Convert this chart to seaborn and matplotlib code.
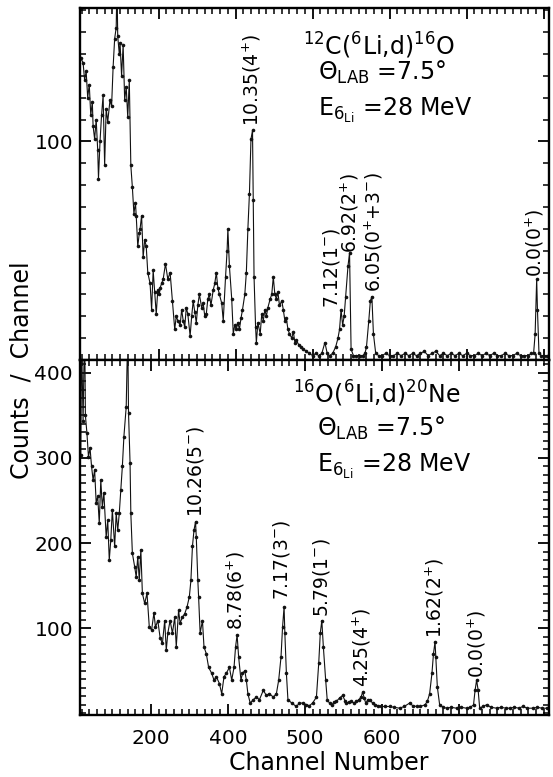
import matplotlib
matplotlib.use("Agg")
import matplotlib.pyplot as plt
import seaborn as sns
import pandas as pd
from matplotlib.ticker import MultipleLocator, FixedLocator

# ---------------- data ----------------
# Top spectrum: 12C(6Li,d)16O
top_channel = [209, 212, 214, 216, 218, 220, 222, 224, 225, 227, 229, 231, 232, 234, 236, 238, 240, 242, 244, 247,
               249, 251, 253, 255, 256, 257, 259, 260, 262, 264, 266, 268, 270, 272, 274, 276, 278, 280, 281, 283,
               285, 286, 288, 290, 292, 294, 296, 299, 301, 303, 305, 307, 309, 311, 312, 314, 316, 319, 322, 325,
               328, 331, 333, 335, 338, 340, 342, 344, 346, 348, 351, 353, 355, 357, 359, 361, 363, 366, 368, 370,
               372, 374, 376, 378, 381, 383, 385, 387, 389, 392, 394, 397, 399, 400, 402, 405, 407, 409, 411, 413,
               415, 417, 419, 422, 424, 426, 428, 430, 432, 433, 434, 436, 437, 439, 442, 444, 446, 448, 450, 452,
               455, 457, 459, 461, 463, 465, 467, 470, 472, 474, 476, 478, 480, 483, 485, 487, 489, 492, 495, 498,
               502, 506, 510, 514, 518, 522, 526, 529, 532, 536, 540, 543, 545, 547, 549, 551, 553, 556, 558, 560,
               563, 567, 571, 575, 578, 580, 583, 585, 587, 589, 592, 596, 600, 605, 610, 615, 620, 625, 630, 635,
               640, 645, 650, 655, 660, 665, 670, 675, 680, 685, 690, 695, 700, 705, 710, 715, 720, 725, 730, 735,
               740, 745, 750, 755, 760, 765, 770, 775, 780, 785, 790, 794, 797, 799, 801, 802, 804, 807, 810, 814,
               817]
top_counts = [138, 136, 128, 132, 120, 126, 112, 118, 107, 101, 110, 96, 83, 100, 112, 121, 89, 115, 109, 119,
              116, 134, 147, 152, 172, 148, 140, 145, 130, 144, 119, 125, 111, 128, 89, 79, 67, 72, 66, 52,
              58, 60, 66, 47, 55, 52, 40, 35, 23, 41, 31, 21, 32, 30, 33, 35, 37, 44, 37, 40,
              27, 14, 20, 18, 16, 23, 18, 15, 24, 21, 11, 20, 27, 22, 17, 25, 30, 24, 26, 20,
              21, 28, 30, 25, 32, 35, 40, 33, 30, 26, 18, 38, 50, 60, 43, 28, 12, 16, 14, 17,
              14, 19, 23, 30, 40, 60, 76, 101, 105, 73, 38, 15, 8, 17, 12, 21, 18, 23, 20, 24,
              28, 30, 38, 30, 28, 31, 25, 27, 23, 18, 19, 14, 12, 10, 13, 8, 9, 7, 6, 5,
              4, 3, 2, 3, 2, 3, 8, 3, 2, 3, 6, 10, 14, 23, 16, 20, 29, 43, 49, 5,
              2, 2, 2, 2, 3, 6, 18, 27, 29, 12, 3, 2, 2, 3, 2, 2, 3, 2, 3, 2,
              3, 2, 3, 4, 2, 3, 4, 2, 3, 2, 3, 2, 3, 2, 3, 2, 2, 3, 2, 3,
              2, 3, 2, 2, 3, 2, 2, 3, 2, 2, 2, 3, 3, 12, 37, 23, 3, 2, 2, 2,
              2]

# Bottom spectrum: 16O(6Li,d)20Ne
bot_channel = [209, 210, 212, 214, 215, 217, 219, 221, 223, 225, 227, 229, 231, 233, 235, 237, 239, 242, 244, 246,
               248, 250, 253, 255, 257, 259, 261, 263, 265, 268, 270, 271, 273, 274, 276, 279, 281, 283, 285, 287,
               289, 292, 295, 298, 301, 304, 306, 309, 312, 315, 318, 320, 322, 325, 328, 331, 333, 336, 338, 341,
               344, 347, 350, 352, 354, 356, 358, 359, 361, 362, 364, 367, 369, 372, 375, 379, 382, 385, 389, 392,
               395, 398, 402, 405, 408, 410, 412, 414, 417, 419, 422, 424, 426, 429, 433, 437, 441, 446, 450, 454,
               459, 463, 466, 469, 471, 473, 474, 476, 478, 483, 489, 493, 498, 502, 506, 510, 515, 518, 520, 522,
               524, 527, 529, 532, 535, 538, 541, 545, 549, 552, 554, 557, 560, 564, 567, 570, 573, 575, 577, 579,
               582, 584, 588, 591, 595, 599, 604, 610, 616, 623, 629, 636, 640, 645, 650, 656, 659, 662, 665, 667,
               669, 670, 672, 675, 680, 684, 690, 697, 703, 710, 715, 719, 721, 723, 725, 727, 731, 736, 742, 749,
               755, 761, 766, 772, 778, 783, 789, 796, 802, 808, 814, 817]
bot_counts = [303, 440, 343, 460, 350, 329, 301, 312, 290, 274, 286, 247, 255, 223, 274, 242, 259, 207, 227, 180,
              204, 239, 196, 235, 215, 235, 262, 290, 325, 360, 450, 353, 294, 235, 188, 172, 160, 184, 156, 192,
              141, 129, 141, 101, 98, 118, 101, 109, 89, 82, 109, 74, 94, 109, 94, 113, 78, 121, 106, 113,
              117, 125, 137, 156, 196, 215, 225, 207, 156, 137, 94, 109, 78, 70, 54, 47, 39, 43, 35, 23,
              43, 47, 54, 39, 54, 78, 92, 66, 39, 47, 50, 39, 23, 12, 16, 19, 16, 27, 21, 23,
              19, 23, 39, 66, 101, 125, 94, 47, 16, 12, 8, 12, 12, 10, 9, 12, 19, 59, 94, 109,
              78, 39, 16, 12, 10, 13, 14, 18, 21, 15, 12, 13, 14, 12, 14, 16, 19, 25, 18, 12,
              16, 16, 12, 10, 9, 8, 8, 8, 7, 6, 8, 12, 9, 8, 8, 10, 14, 23, 47, 70,
              84, 66, 31, 10, 7, 6, 7, 6, 7, 6, 7, 10, 27, 39, 27, 6, 8, 10, 7, 6,
              7, 6, 6, 7, 6, 8, 6, 6, 7, 6, 6, 6]

# Peak annotations (text, channel, count at label foot)
top_labels = ["10.35(4$^{+}$)", "7.12(1$^{-}$)", "6.92(2$^{+}$)", "6.05(0$^{+}$+3$^{-}$)", "0.0(0$^{+}$)"]
top_label_channel = [431, 535, 559, 590, 799]
top_label_count = [107, 24, 49, 31, 38]

bot_labels = ["10.26(5$^{-}$)", "8.78(6$^{+}$)", "7.17(3$^{-}$)", "5.79(1$^{-}$)",
              "4.25(4$^{+}$)", "1.62(2$^{+}$)", "0.0(0$^{+}$)"]
bot_label_channel = [358, 410, 470, 522, 574, 669, 723]
bot_label_count = [231, 98, 133, 113, 31, 89, 42]

x_tick_values = [300, 400, 500, 600, 700]
x_tick_labels = ["200", "400", "500", "600", "700"]
top_major_x = [310, 410, 510, 610, 710, 810]
top_y_ticks = [100]
bot_y_ticks = [100, 200, 300, 400]

top_text = ["$^{12}$C($^{6}$Li,d)$^{16}$O", "Θ$_{\\mathrm{LAB}}$ =7.5°", "E$_{6_{\\mathrm{Li}}}$ =28 MeV"]
bot_text = ["$^{16}$O($^{6}$Li,d)$^{20}$Ne", "Θ$_{\\mathrm{LAB}}$ =7.5°", "E$_{6_{\\mathrm{Li}}}$ =28 MeV"]

# ---------------- styling ----------------
sns.set_style("ticks")
plt.rcParams['font.family'] = ['DejaVu Sans']
plt.rcParams['mathtext.fontset'] = 'dejavusans'
plt.rcParams['mathtext.default'] = 'regular'
for key in ("text.color", "axes.labelcolor", "xtick.color", "ytick.color", "axes.edgecolor"):
    plt.rcParams[key] = "black"

W, H = 553, 777
fig = plt.figure(figsize=(W / 100, H / 100), dpi=100)

def fx(px):
    return px / W

def fy(py):
    return 1 - py / H

left, right = 80, 549
ax_top = fig.add_axes([fx(left), fy(360), fx(right) - fx(left), fy(8) - fy(360)])
ax_bot = fig.add_axes([fx(left), fy(715), fx(right) - fx(left), fy(360) - fy(715)])

top_df = pd.DataFrame({"channel": top_channel, "counts": top_counts})
bot_df = pd.DataFrame({"channel": bot_channel, "counts": bot_counts})

line_kw = dict(color="#111111", linewidth=0.8, marker="o", markersize=2.6,
               markeredgewidth=0, estimator=None, legend=False)
sns.lineplot(data=top_df, x="channel", y="counts", ax=ax_top, **line_kw)
sns.lineplot(data=bot_df, x="channel", y="counts", ax=ax_bot, **line_kw)

for ax in (ax_top, ax_bot):
    ax.set_xlim(208, 817)
    ax.set_xlabel("")
    ax.set_ylabel("")
    for s in ax.spines.values():
        s.set_linewidth(1.7)
        s.set_color("black")
        s.set_visible(True)
    ax.xaxis.set_minor_locator(MultipleLocator(10))
    ax.yaxis.set_minor_locator(MultipleLocator(10))
    ax.tick_params(which="both", direction="in", top=True, right=True, bottom=True, left=True,
                   color="black", labelcolor="black", width=1.3)
    ax.tick_params(which="major", length=8)
    ax.tick_params(which="minor", length=4, width=1.1)

ax_top.set_ylim(0, 161)
ax_top.xaxis.set_major_locator(FixedLocator(top_major_x))
ax_top.set_xticklabels([])
ax_top.set_yticks(top_y_ticks)
ax_top.set_yticklabels([str(v) for v in top_y_ticks])

ax_bot.set_ylim(-2, 415)
ax_bot.set_xticks(x_tick_values)
ax_bot.set_xticklabels(x_tick_labels)
ax_bot.set_yticks(bot_y_ticks)
ax_bot.set_yticklabels([str(v) for v in bot_y_ticks])

ax_top.tick_params(axis="y", which="major", labelsize=14.5, pad=5)
ax_bot.tick_params(axis="y", which="major", labelsize=14.5, pad=5)
ax_bot.tick_params(axis="x", which="major", labelsize=14.5, pad=10)

for t, c, y in zip(top_labels, top_label_channel, top_label_count):
    ax_top.text(c, y, t, rotation=90, ha="center", va="bottom", fontsize=13.5, color="black")
for t, c, y in zip(bot_labels, bot_label_channel, bot_label_count):
    ax_bot.text(c, y, t, rotation=90, ha="center", va="bottom", fontsize=13.5, color="black")

# reaction info
for t, (px, py) in zip(top_text, [(303, 55), (318, 80), (318, 116)]):
    fig.text(fx(px), fy(py), t, ha="left", va="baseline", fontsize=17, color="black")
for t, (px, py) in zip(bot_text, [(293, 403), (317, 436), (317, 472)]):
    fig.text(fx(px), fy(py), t, ha="left", va="baseline", fontsize=17, color="black")

fig.text(fx(22), fy(370), "Counts  /  Channel", rotation=90, ha="center", va="center",
         fontsize=17, color="black")
fig.text(fx(329), fy(763), "Channel Number", ha="center", va="center", fontsize=17, color="black")

fig.savefig("out.png", dpi=100)
